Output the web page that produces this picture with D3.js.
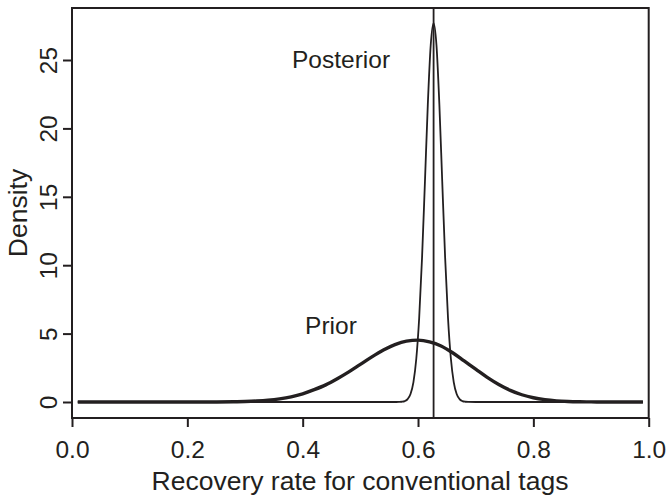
<!DOCTYPE html>
<html>
<head>
<meta charset="utf-8">
<script src="https://cdn.jsdelivr.net/npm/d3@7"></script>
<style>
  html, body { margin: 0; padding: 0; background: #fff; }
  svg { display: block; font-family: "Liberation Sans", Arial, sans-serif; }
</style>
</head>
<body>
<svg id="chart" width="668" height="497"></svg>
<script>
// ---- data ----
const priorX = [0.01, 0.05, 0.10, 0.15, 0.20, 0.25, 0.28, 0.30, 0.32, 0.34, 0.36, 0.38, 0.40, 0.42, 0.44, 0.46, 0.48, 0.50, 0.52, 0.54, 0.56, 0.58, 0.60, 0.62, 0.64, 0.66, 0.68, 0.70, 0.72, 0.74, 0.76, 0.78, 0.80, 0.82, 0.84, 0.86, 0.88, 0.90, 0.92, 0.95, 0.99];
const priorY = [0, 0, 0, 0, 0, 0.005, 0.016, 0.035, 0.07, 0.13, 0.23, 0.38, 0.6, 0.9, 1.25, 1.7, 2.2, 2.75, 3.3, 3.8, 4.2, 4.45, 4.52, 4.4, 4.1, 3.6, 3.0, 2.4, 1.8, 1.28, 0.85, 0.53, 0.31, 0.17, 0.085, 0.04, 0.017, 0.006, 0.002, 0, 0];

const postX = [0.01, 0.10, 0.30, 0.50, 0.55, 0.562, 0.567, 0.572, 0.577, 0.582, 0.587, 0.592, 0.597, 0.602, 0.607, 0.612, 0.617, 0.622, 0.627, 0.632, 0.637, 0.642, 0.647, 0.652, 0.657, 0.662, 0.667, 0.672, 0.677, 0.682, 0.687, 0.70, 0.75, 0.85, 0.95, 0.99];
const postY = [0, 0, 0, 0, 0, 0.001, 0.005, 0.019, 0.067, 0.21, 0.585, 1.44, 3.16, 6.14, 10.56, 16.10, 21.77, 26.08, 27.7, 26.08, 21.77, 16.10, 10.56, 6.14, 3.16, 1.44, 0.585, 0.21, 0.067, 0.019, 0.005, 0, 0, 0, 0, 0];

const modeLine = 0.627;
const xTicks = [0.0, 0.2, 0.4, 0.6, 0.8, 1.0];
const yTicks = [0, 5, 10, 15, 20, 25];
const labels = [
  { text: "Posterior", x: 0.4665, y: 24.4 },
  { text: "Prior", x: 0.449, y: 4.95 }
];
const xTitle = "Recovery rate for conventional tags";
const yTitle = "Density";

// ---- drawing ----
const ink = "#231f20";
const svg = d3.select("#chart");
const box = { left: 72, right: 648.7, top: 8, bottom: 418 };

const x = d3.scaleLinear().domain([0, 1]).range([box.left, box.right]);
const y = d3.scaleLinear().domain([0, 25]).range([402, 60]);

// axes
const xAxis = d3.axisBottom(x).tickValues(xTicks).tickFormat(d3.format(".1f")).tickSize(9);
const gx = svg.append("g").attr("transform", `translate(0,${box.bottom})`).call(xAxis);
gx.select(".domain").remove();
gx.selectAll(".tick line").attr("stroke", ink).attr("stroke-width", 2);
gx.selectAll(".tick text").attr("fill", ink).attr("font-size", 24.5)
  .attr("font-family", "Liberation Sans, Arial, sans-serif")
  .attr("y", 40).attr("dy", 0);

const yAxis = d3.axisLeft(y).tickValues(yTicks).tickFormat(d3.format("d")).tickSize(9);
const gy = svg.append("g").attr("transform", `translate(${box.left},0)`).call(yAxis);
gy.select(".domain").remove();
gy.selectAll(".tick line").attr("stroke", ink).attr("stroke-width", 2);
gy.selectAll(".tick text").attr("fill", ink).attr("font-size", 24.5)
  .attr("font-family", "Liberation Sans, Arial, sans-serif")
  .attr("x", 0).attr("dy", 0).attr("text-anchor", "middle")
  .attr("transform", "translate(-15,0) rotate(-90)");

// curves
const line = d3.line().x(d => x(d[0])).y(d => y(d[1])).curve(d3.curveMonotoneX);
svg.append("path")
  .datum(priorX.map((v, i) => [v, priorY[i]]))
  .attr("d", line)
  .attr("fill", "none").attr("stroke", ink).attr("stroke-width", 3.4);

svg.append("path")
  .datum(postX.map((v, i) => [v, postY[i]]))
  .attr("d", line)
  .attr("fill", "none").attr("stroke", ink).attr("stroke-width", 1.8);

// vertical mode line
svg.append("line")
  .attr("x1", x(modeLine)).attr("x2", x(modeLine))
  .attr("y1", box.top).attr("y2", box.bottom)
  .attr("stroke", ink).attr("stroke-width", 1.8);

// box
svg.append("rect")
  .attr("x", box.left).attr("y", box.top)
  .attr("width", box.right - box.left).attr("height", box.bottom - box.top)
  .attr("fill", "none").attr("stroke", ink).attr("stroke-width", 2);

// labels
svg.selectAll("text.lab").data(labels).enter().append("text")
  .attr("class", "lab")
  .attr("x", d => x(d.x)).attr("y", d => y(d.y))
  .attr("text-anchor", "middle").attr("font-size", 24.5).attr("fill", ink)
  .text(d => d.text);

svg.append("text")
  .attr("x", 360).attr("y", 490)
  .attr("text-anchor", "middle").attr("font-size", 26.5).attr("fill", ink)
  .text(xTitle);

svg.append("text")
  .attr("transform", `translate(27,213) rotate(-90)`)
  .attr("text-anchor", "middle").attr("font-size", 26.5).attr("fill", ink)
  .text(yTitle);
</script>
</body>
</html>
